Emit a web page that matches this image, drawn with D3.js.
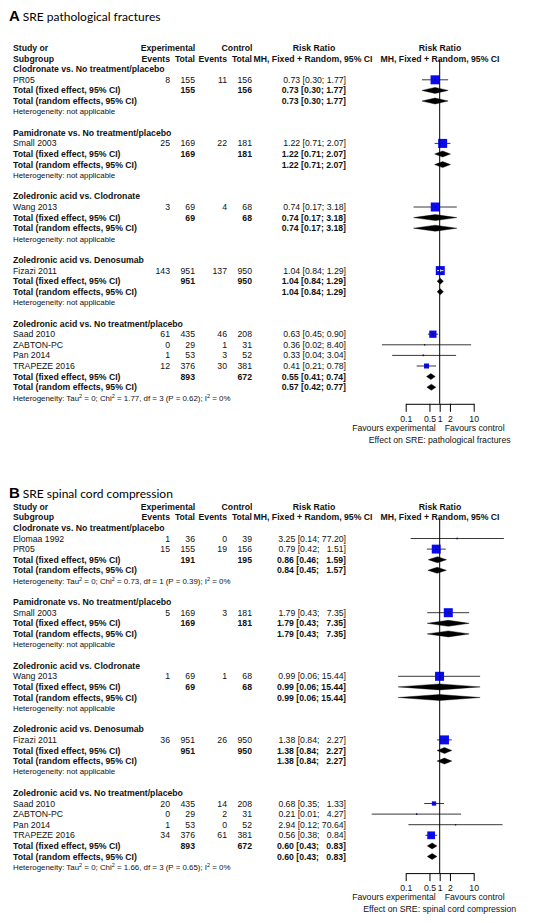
<!DOCTYPE html>
<html><head><meta charset="utf-8">
<script src="https://cdn.jsdelivr.net/npm/d3@7"></script>
<style>
html,body{margin:0;padding:0;background:#fff;}
svg text{font-family:"Liberation Sans",Arial,sans-serif;white-space:pre;}
</style></head>
<body>
<svg id="chart" width="538" height="923"></svg>
<script>
// ---------- Panel A: SRE pathological fractures ----------
const aTitle = "SRE pathological fractures";
const aGroups = ["Clodronate vs. No treatment/placebo","Pamidronate vs. No treatment/placebo","Zoledronic acid vs. Clodronate","Zoledronic acid vs. Denosumab","Zoledronic acid vs. No treatment/placebo"];
const aStudy = ["PR05","Small 2003","Wang 2013","Fizazi 2011","Saad 2010","ZABTON-PC","Pan 2014","TRAPEZE 2016"];
const aStudyGroup = [0,1,2,3,4,4,4,4];
const aExpEvents = [8,25,3,143,61,0,1,12];
const aExpTotal = [155,169,69,951,435,29,53,376];
const aCtlEvents = [11,22,4,137,46,1,3,30];
const aCtlTotal = [156,181,68,950,208,31,52,381];
const aRR = [0.73,1.22,0.74,1.04,0.63,0.36,0.33,0.41];
const aLo = [0.30,0.71,0.17,0.84,0.45,0.02,0.04,0.21];
const aHi = [1.77,2.07,3.18,1.29,0.90,8.40,3.04,0.78];
const aWeight = [100,100,100,100,64.8,1.0,3.1,31.1];
const aFixExpTotal = [155,169,69,951,893];
const aFixCtlTotal = [156,181,68,950,672];
const aFixRR = [0.73,1.22,0.74,1.04,0.55];
const aFixLo = [0.30,0.71,0.17,0.84,0.41];
const aFixHi = [1.77,2.07,3.18,1.29,0.74];
const aRanRR = [0.73,1.22,0.74,1.04,0.57];
const aRanLo = [0.30,0.71,0.17,0.84,0.42];
const aRanHi = [1.77,2.07,3.18,1.29,0.77];
const aHet = [null,null,null,null,{tau2:"0",chi2:"1.77",df:"3",p:"0.62",i2:"0%"}];
const aEffectLabel = "Effect on SRE: pathological fractures";

// ---------- Panel B: SRE spinal cord compression ----------
const bTitle = "SRE spinal cord compression";
const bGroups = ["Clodronate vs. No treatment/placebo","Pamidronate vs. No treatment/placebo","Zoledronic acid vs. Clodronate","Zoledronic acid vs. Denosumab","Zoledronic acid vs. No treatment/placebo"];
const bStudy = ["Elomaa 1992","PR05","Small 2003","Wang 2013","Fizazi 2011","Saad 2010","ZABTON-PC","Pan 2014","TRAPEZE 2016"];
const bStudyGroup = [0,0,1,2,3,4,4,4,4];
const bExpEvents = [1,15,5,1,36,20,0,1,34];
const bExpTotal = [36,155,169,69,951,435,29,53,376];
const bCtlEvents = [0,19,3,1,26,14,2,0,61];
const bCtlTotal = [39,156,181,68,950,208,31,52,381];
const bRR = [3.25,0.79,1.79,0.99,1.38,0.68,0.21,2.94,0.56];
const bLo = [0.14,0.42,0.43,0.06,0.84,0.35,0.01,0.12,0.38];
const bHi = [77.20,1.51,7.35,15.44,2.27,1.33,4.27,70.64,0.84];
const bWeight = [2.5,97.5,100,100,100,23,2.4,1.0,74];
const bFixExpTotal = [191,169,69,951,893];
const bFixCtlTotal = [195,181,68,950,672];
const bFixRR = [0.86,1.79,0.99,1.38,0.60];
const bFixLo = [0.46,0.43,0.06,0.84,0.43];
const bFixHi = [1.59,7.35,15.44,2.27,0.83];
const bRanRR = [0.84,1.79,0.99,1.38,0.60];
const bRanLo = [0.45,0.43,0.06,0.84,0.43];
const bRanHi = [1.57,7.35,15.44,2.27,0.83];
const bHet = [{tau2:"0",chi2:"0.73",df:"1",p:"0.39",i2:"0%"},null,null,null,{tau2:"0",chi2:"1.66",df:"3",p:"0.65",i2:"0%"}];
const bEffectLabel = "Effect on SRE: spinal cord compression";

const axisTicks = [0.1,0.5,1,2,10];
const axisTickLabels = ["0.1","0.5","1","2","10"];

// ---------- drawing ----------
const svg = d3.select("#chart");
const FS = 8.7, FS_HET = 7.9;
const ROW = 10.6;
const xScale = d3.scaleLog().domain([0.1,10]).range([405.7,473.7]);
const sizeScale = d3.scaleSqrt().domain([0,100]).range([0,9]);

const colStudy = 13, colEE = 170, colET = 195, colCE = 227, colCT = 252, colCI = 346;

function fmtCI(rr, lo, hi, w){
  let h = hi.toFixed(2);
  const pad = w - h.length;
  return rr.toFixed(2) + " [" + lo.toFixed(2) + "; " + "  ".repeat(Math.max(0,pad)) + h + "]";
}

function drawPanel(P, titleLetter, titleY, yTop){
  const g = svg.append("g");
  const yRow = d3.scaleLinear().domain([0,1]).range([yTop, yTop+ROW]);
  const maxW = d3.max(P.hi.concat(P.fixHi, P.ranHi), d => d.toFixed(2).length);

  // title
  const t = g.append("text").attr("x",9).attr("y",titleY);
  t.append("tspan").attr("font-weight","bold").attr("font-size",15).text(titleLetter);
  t.append("tspan").attr("dx",3).attr("font-size",12).style("font-family","Lato, 'Open Sans', sans-serif").text(P.title);

  function txt(x, r, s, opts={}){
    return g.append("text").attr("x",x).attr("y",yRow(r)).attr("dy","0.35em")
      .attr("font-size",opts.fs||FS).attr("font-weight",opts.bold?"bold":"normal")
      .attr("text-anchor",opts.anchor||"start").attr("fill","#111").text(s);
  }
  // headers
  txt(colStudy,0,"Study or",{bold:true});
  txt(colStudy,1,"Subgroup",{bold:true});
  txt(168,0,"Experimental",{bold:true,anchor:"middle"});
  txt(237,0,"Control",{bold:true,anchor:"middle"});
  txt(colEE,1,"Events",{bold:true,anchor:"end"});
  txt(colET,1,"Total",{bold:true,anchor:"end"});
  txt(colCE,1,"Events",{bold:true,anchor:"end"});
  txt(colCT,1,"Total",{bold:true,anchor:"end"});
  txt(314,0,"Risk Ratio",{bold:true,anchor:"middle"});
  txt(313,1,"MH, Fixed + Random, 95% CI",{bold:true,anchor:"middle"});
  txt(440,0,"Risk Ratio",{bold:true,anchor:"middle"});
  txt(440,1,"MH, Fixed + Random, 95% CI",{bold:true,anchor:"middle"});

  const marks = g.append("g");
  let r = 2;
  const x1 = xScale(1);
  P.groups.forEach((gname, gi) => {
    txt(colStudy, r, gname, {bold:true}); r++;
    P.study.forEach((s, i) => {
      if (P.studyGroup[i] !== gi) return;
      txt(colStudy, r, s);
      txt(colEE, r, String(P.ee[i]), {anchor:"end"});
      txt(colET, r, String(P.et[i]), {anchor:"end"});
      txt(colCE, r, String(P.ce[i]), {anchor:"end"});
      txt(colCT, r, String(P.ct[i]), {anchor:"end"});
      txt(colCI, r, fmtCI(P.rr[i], P.lo[i], P.hi[i], maxW), {anchor:"end"});
      const y = yRow(r), xl = xScale(P.lo[i]), xh = xScale(P.hi[i]), xe = xScale(P.rr[i]);
      const sz = sizeScale(P.w[i]);
      marks.append("line").attr("x1",xl).attr("x2",xh).attr("y1",y).attr("y2",y).attr("stroke","#222").attr("stroke-width",0.9);
      marks.append("rect").attr("x",xe-sz/2).attr("y",y-sz/2).attr("width",sz).attr("height",sz).attr("fill","#0a0af0");
      if (xh - xl < sz) {
        marks.append("line").attr("x1",xl).attr("x2",xh).attr("y1",y).attr("y2",y).attr("stroke","#fff").attr("stroke-width",0.9);
        marks.append("line").attr("x1",xe).attr("x2",xe).attr("y1",y-1.5).attr("y2",y+1.5).attr("stroke","#fff").attr("stroke-width",0.9);
      } else {
        marks.append("circle").attr("cx",xe).attr("cy",y).attr("r",0.7).attr("fill","#111");
      }
      r++;
    });
    // fixed
    txt(colStudy, r, "Total (fixed effect, 95% CI)", {bold:true});
    txt(colET, r, String(P.fixET[gi]), {bold:true,anchor:"end"});
    txt(colCT, r, String(P.fixCT[gi]), {bold:true,anchor:"end"});
    txt(colCI, r, fmtCI(P.fixRR[gi], P.fixLo[gi], P.fixHi[gi], maxW), {bold:true,anchor:"end"});
    diamond(yRow(r), P.fixRR[gi], P.fixLo[gi], P.fixHi[gi]);
    r++;
    txt(colStudy, r, "Total (random effects, 95% CI)", {bold:true});
    txt(colCI, r, fmtCI(P.ranRR[gi], P.ranLo[gi], P.ranHi[gi], maxW), {bold:true,anchor:"end"});
    diamond(yRow(r), P.ranRR[gi], P.ranLo[gi], P.ranHi[gi]);
    r++;
    const h = P.het[gi];
    const ht = g.append("text").attr("x",colStudy).attr("y",yRow(r)).attr("dy","0.35em").attr("font-size",FS_HET).attr("fill","#111");
    if (!h) ht.text("Heterogeneity: not applicable");
    else {
      ht.append("tspan").text("Heterogeneity: Tau");
      ht.append("tspan").attr("dy",-3).attr("font-size",5.5).text("2");
      ht.append("tspan").attr("dy",3).text(" = " + h.tau2 + "; Chi");
      ht.append("tspan").attr("dy",-3).attr("font-size",5.5).text("2");
      ht.append("tspan").attr("dy",3).text(" = " + h.chi2 + ", df = " + h.df + " (P = " + h.p + "); I");
      ht.append("tspan").attr("dy",-3).attr("font-size",5.5).text("2");
      ht.append("tspan").attr("dy",3).text(" = " + h.i2);
    }
    r++;
    if (gi < P.groups.length-1) r++;
  });
  const hetY = yRow(r-1);
  const axisY = hetY + 6;

  function diamond(y, est, lo, hi){
    const pts = [[xScale(lo),y],[xScale(est),y-3],[xScale(hi),y],[xScale(est),y+3]];
    marks.append("polygon").attr("points",pts.map(p=>p.join(",")).join(" ")).attr("fill","#000").attr("stroke","#000").attr("stroke-width",0.4);
  }

  // reference line
  g.append("line").attr("x1",x1).attr("x2",x1).attr("y1",yRow(1)+1).attr("y2",axisY)
    .attr("stroke","#000").attr("stroke-width",1);

  // axis
  const ax = d3.axisBottom(xScale).tickValues(axisTicks)
    .tickFormat((d,i)=>axisTickLabels[i]).tickSizeInner(8).tickSizeOuter(0).tickPadding(4);
  const axg = g.append("g").attr("transform",`translate(0,${axisY})`).call(ax);
  axg.selectAll("path,line").attr("stroke","#000").attr("stroke-width",1);
  axg.selectAll("text").attr("font-size",FS).style("font-family","'Liberation Sans',Arial,sans-serif").attr("fill","#111");

  g.append("text").attr("x",x1-4).attr("y",hetY+30).attr("dy","0.35em").attr("font-size",FS).attr("text-anchor","end").attr("fill","#111").text("Favours experimental");
  g.append("text").attr("x",x1+5).attr("y",hetY+30).attr("dy","0.35em").attr("font-size",FS).attr("text-anchor","start").attr("fill","#111").text("Favours control");
  g.append("text").attr("x",x1).attr("y",hetY+42).attr("dy","0.35em").attr("font-size",FS).attr("text-anchor","middle").attr("fill","#111").text(P.effect);
}

drawPanel({title:aTitle, groups:aGroups, study:aStudy, studyGroup:aStudyGroup, ee:aExpEvents, et:aExpTotal, ce:aCtlEvents, ct:aCtlTotal,
  rr:aRR, lo:aLo, hi:aHi, w:aWeight, fixET:aFixExpTotal, fixCT:aFixCtlTotal, fixRR:aFixRR, fixLo:aFixLo, fixHi:aFixHi,
  ranRR:aRanRR, ranLo:aRanLo, ranHi:aRanHi, het:aHet, effect:aEffectLabel}, "A", 21, 48);
drawPanel({title:bTitle, groups:bGroups, study:bStudy, studyGroup:bStudyGroup, ee:bExpEvents, et:bExpTotal, ce:bCtlEvents, ct:bCtlTotal,
  rr:bRR, lo:bLo, hi:bHi, w:bWeight, fixET:bFixExpTotal, fixCT:bFixCtlTotal, fixRR:bFixRR, fixLo:bFixLo, fixHi:bFixHi,
  ranRR:bRanRR, ranLo:bRanLo, ranHi:bRanHi, het:bHet, effect:bEffectLabel}, "B", 498, 506.7);
</script>
</body></html>
